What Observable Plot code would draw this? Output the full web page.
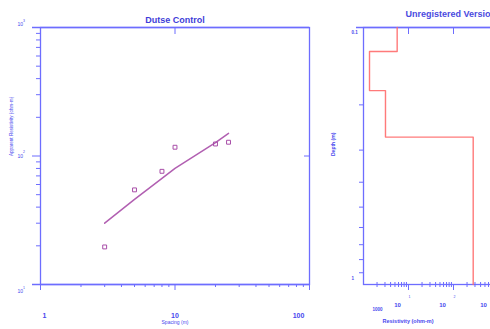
<!DOCTYPE html>
<html><head><meta charset="utf-8">
<script src="https://cdn.jsdelivr.net/npm/d3@7"></script>
<script src="https://cdn.jsdelivr.net/npm/@observablehq/plot@0.6"></script>
<style>
html,body{margin:0;padding:0;background:#fff;overflow:hidden}
#wrap{position:relative;width:490px;height:329px;overflow:hidden;background:#fff}
#left,#right{position:absolute;top:0}
#left{left:0;width:320px}
#right{left:320px;width:178px}
#wrap svg{max-width:none !important}
</style></head><body>
<div id="wrap"><div id="left"></div><div id="right"></div></div>
<script>
// ---- data ----
const spacing = [3, 5, 8, 10, 20, 25];
const apparentRes = [19.6, 54.5, 76, 117, 124, 128];
const fitSpacing = [3, 5, 8, 10, 20, 25];
const fitRes = [30, 46, 67, 80, 127, 150];
const layerRes = [5.6, 1.36, 3.08, 274];
const layerBottoms = [0.124, 0.176, 0.267];
const depthRange = [0.1, 1];
const xTickVals = [1, 10, 100];
const xTickLabels = ["1", "10", "100"];
const yTickVals = [10, 100, 1000];
const yTickSup = ["1", "2", "3"];
const rTickVals = [1, 10, 100, 1000];
const rTickLabels = ["1000", "10", "10", "10"];
const rTickSup = ["", "1", "2", "3"];
const dTickVals = [0.1, 1];
const dTickLabels = ["0.1", "1"];
const titleText = "Dutse Control";
const watermark = "Unregistered Version";

// ---- styles ----
const blue = "#6d6dff", tblue = "#4747ee", purple = "#a84ea8", red = "#ff6b6b";
const font = "Liberation Sans, Arial, sans-serif";
const minorLog = (a, b) => { const out = []; for (let p = a; p < b; p++) for (let m = 2; m <= 9; m++) out.push(m * 10 ** p); return out; };
const ax = (extra) => Object.assign({tickFormat: () => "", color: blue, label: null}, extra);

const pts = spacing.map((s, i) => ({s, r: apparentRes[i]}));
const fit = fitSpacing.map((s, i) => ({s, r: fitRes[i]}));

const xDx = [4, 0, -11];
const yDy = [7, 0, -3];

const leftChart = Plot.plot({
  width: 320, height: 329, marginTop: 27, marginBottom: 45, marginLeft: 40, marginRight: 11,
  style: {background: "#fff", fontFamily: font, overflow: "visible", maxWidth: "none"},
  x: {type: "log", domain: [1, 100], axis: null},
  y: {type: "log", domain: [10, 1000], axis: null},
  marks: [
    Plot.frame({stroke: blue, strokeWidth: 1.3}),
    Plot.ruleY([10, 1000], {stroke: blue, strokeWidth: 1.3, insetLeft: -8}),
    Plot.axisX(minorLog(0, 2), ax({tickSize: 3})),
    Plot.axisX(xTickVals, ax({tickSize: 6})),
    Plot.axisX([10], ax({anchor: "top", tickSize: -6})),
    Plot.axisY(minorLog(1, 3), ax({tickSize: 4})),
    Plot.axisY([100], ax({tickSize: 8})),
    Plot.axisY([100], ax({anchor: "right", tickSize: -6})),
    ...xTickVals.map((v, i) => Plot.text([v], {x: d => d, text: () => xTickLabels[i], frameAnchor: "bottom", dy: 33, dx: xDx[i], fill: tblue, fontSize: 7, fontWeight: "bold"})),
    ...yTickVals.map((v, i) => Plot.text([v], {y: d => d, text: () => "10", frameAnchor: "left", dx: -23, dy: yDy[i], fill: tblue, fontSize: 5})),
    ...yTickVals.map((v, i) => Plot.text([v], {y: d => d, text: () => yTickSup[i], frameAnchor: "left", dx: -17.5, dy: yDy[i] - 4, fill: tblue, fontSize: 3.5})),
    Plot.text([titleText], {frameAnchor: "top", dy: -11, fill: "#3d3dd8", fontSize: 9, fontWeight: "bold", letterSpacing: "0.4px"}),
    Plot.text(["Spacing (m)"], {frameAnchor: "bottom", dy: 39, fill: tblue, fontSize: 5}),
    Plot.text(["Apparent Resistivity (ohm-m)"], {frameAnchor: "left", dx: -29, rotate: -90, fill: tblue, fontSize: 4.6}),
    Plot.line(fit, {x: "s", y: "r", stroke: purple, strokeWidth: 1.5, strokeOpacity: 0.9}),
    Plot.dot(pts, {x: "s", y: "r", symbol: "square", r: 2.2, stroke: purple, strokeWidth: 1})
  ]
});
document.getElementById("left").append(leftChart);

// model step path built from layer arrays
const model = [];
let layerTop = depthRange[0];
layerRes.forEach((rho, i) => {
  const layerBottom = i < layerBottoms.length ? layerBottoms[i] : depthRange[1];
  model.push({rho, d: layerTop}, {rho, d: layerBottom});
  layerTop = layerBottom;
});

const rDx = [14, -11, -11, -15];
const rightChart = Plot.plot({
  width: 178, height: 329, marginTop: 27, marginBottom: 45, marginLeft: 43, marginRight: 0,
  style: {background: "transparent", fontFamily: font, overflow: "visible", maxWidth: "none"},
  x: {type: "log", domain: [1, 1000], axis: null},
  y: {type: "log", domain: depthRange, reverse: true, axis: null},
  marks: [
    Plot.frame({stroke: blue, strokeWidth: 1.3}),
    Plot.ruleY([depthRange[0]], {stroke: blue, strokeWidth: 1.3, insetLeft: -7}),
    Plot.axisX(minorLog(0, 3), ax({tickSize: 3})),
    Plot.axisX(minorLog(0, 3), ax({tickSize: -2})),
    Plot.axisX([10, 100], ax({tickSize: 6})),
    Plot.axisX([10, 100], ax({anchor: "top", tickSize: -6})),
    Plot.axisY(minorLog(-1, 0), ax({tickSize: 4})),
    ...rTickVals.map((v, i) => Plot.text([v], {x: d => d, text: () => rTickLabels[i], frameAnchor: "bottom", dy: i === 0 ? 26 : 22, dx: rDx[i], fill: tblue, fontSize: i === 0 ? 4.5 : 6, fontWeight: "bold"})),
    ...rTickVals.map((v, i) => Plot.text([v], {x: d => d, text: () => rTickSup[i], frameAnchor: "bottom", dy: 13, dx: 1, fill: tblue, fontSize: 3.5})),
    ...dTickVals.map((v, i) => Plot.text([v], {y: d => d, text: () => dTickLabels[i], frameAnchor: "left", dx: -12, dy: i === 0 ? 5 : -6, fill: tblue, fontSize: 4.5, fontWeight: "bold"})),
    Plot.text(["Depth (m)"], {frameAnchor: "left", dx: -30, rotate: -90, fill: tblue, fontSize: 5, fontWeight: "bold"}),
    Plot.text(["Resistivity (ohm-m)"], {frameAnchor: "bottom", dy: 38, dx: -23, fill: tblue, fontSize: 5.5, fontWeight: "bold"}),
    Plot.text([watermark], {frameAnchor: "top-left", dx: 42, dy: -17, textAnchor: "start", fill: "#4a4ae0", fontSize: 9, fontWeight: "bold", letterSpacing: "1px"}),
    Plot.line(model, {x: "rho", y: "d", stroke: red, strokeWidth: 1.4, strokeOpacity: 0.9})
  ]
});
document.getElementById("right").append(rightChart);
</script>
</body></html>
